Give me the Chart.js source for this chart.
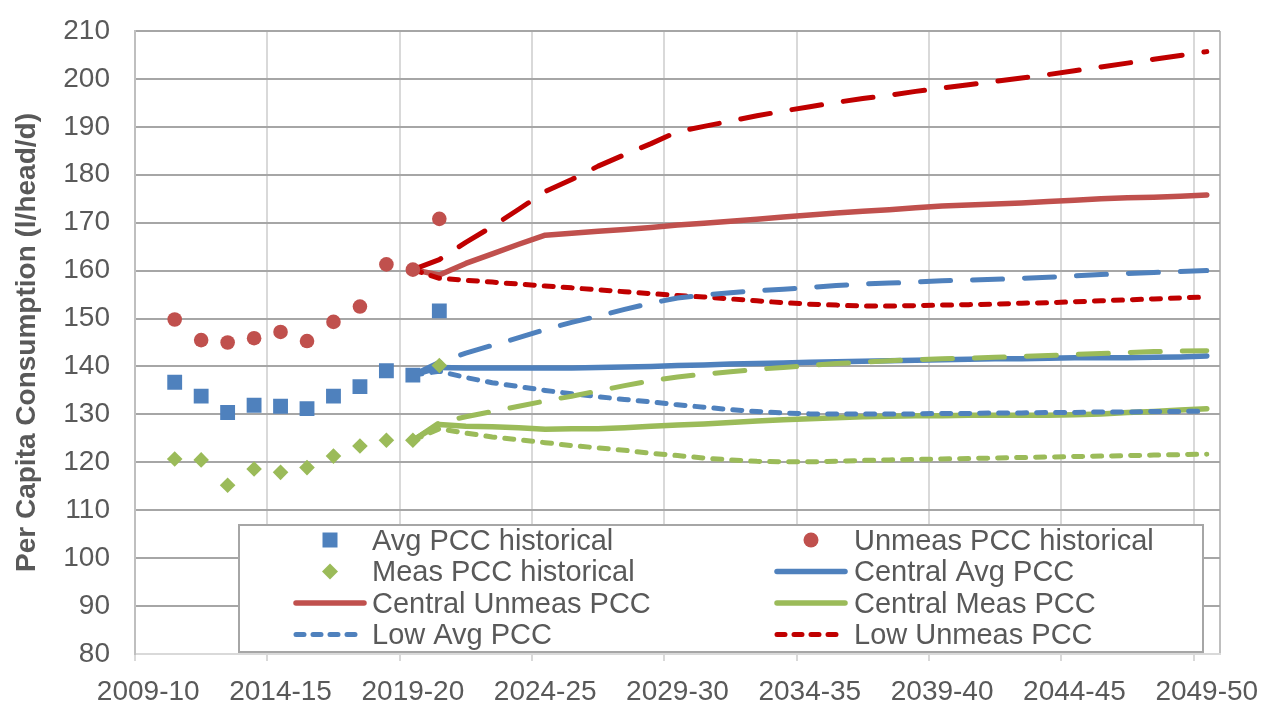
<!DOCTYPE html>
<html>
<head>
<meta charset="utf-8">
<script src="https://cdn.jsdelivr.net/npm/chart.js"></script>
<style>
  html, body { margin: 0; padding: 0; background: #ffffff; }
  #wrap { width: 1262px; height: 702px; }
</style>
</head>
<body>
<div id="wrap"><canvas id="pccChart" width="1262" height="702"></canvas></div>
<script>
// --- data ---
const years = ['2009-10', '2010-11', '2011-12', '2012-13', '2013-14', '2014-15', '2015-16', '2016-17',
    '2017-18', '2018-19', '2019-20', '2020-21', '2021-22', '2022-23', '2023-24', '2024-25', '2025-26',
    '2026-27', '2027-28', '2028-29', '2029-30', '2030-31', '2031-32', '2032-33', '2033-34', '2034-35',
    '2035-36', '2036-37', '2037-38', '2038-39', '2039-40', '2040-41', '2041-42', '2042-43', '2043-44',
    '2044-45', '2045-46', '2046-47', '2047-48', '2048-49', '2049-50'];

// historical series start at 2010-11, projections at 2019-20
const histStart = '2010-11';
const projStart = '2019-20';

const avgHist = [136.7, 133.8, 130.4, 131.9, 131.7, 131.2, 133.8, 135.8, 139.1, 138.2, 151.6];
const unmeasHist = [149.8, 145.5, 145.0, 145.9, 147.2, 145.3, 149.3, 152.5, 161.3, 160.2, 170.8];
const measHist = [120.7, 120.5, 115.2, 118.6, 117.9, 118.9, 121.3, 123.4, 124.6, 124.6, 140.2];

const centralAvg = [138.2, 139.8, 139.7, 139.7, 139.7, 139.7, 139.7, 139.8, 139.9, 140.0, 140.2,
    140.3, 140.5, 140.6, 140.7, 140.9, 141.0, 141.1, 141.2, 141.3, 141.4,
    141.5, 141.6, 141.6, 141.7, 141.8, 141.8, 141.8, 141.9, 142.0, 142.2];
const centralUnmeas = [160.2, 159.1, 161.5, 163.5, 165.5, 167.4, 167.8, 168.2, 168.6, 169.0, 169.5,
    169.9, 170.3, 170.7, 171.2, 171.6, 172.0, 172.4, 172.7, 173.1, 173.5,
    173.7, 173.9, 174.1, 174.4, 174.7, 175.0, 175.2, 175.3, 175.5, 175.8];
const centralMeas = [124.6, 127.9, 127.5, 127.4, 127.2, 126.9, 127.0, 127.0, 127.2, 127.5, 127.8,
    128.0, 128.3, 128.6, 128.9, 129.1, 129.3, 129.5, 129.6, 129.7, 129.7,
    129.8, 129.8, 129.8, 129.8, 129.9, 130.1, 130.4, 130.6, 130.9, 131.2];
const lowAvg = [138.2, 139.0, 137.7, 136.6, 135.8, 135.0, 134.3, 133.7, 133.1, 132.6, 132.0,
    131.5, 131.0, 130.6, 130.3, 130.1, 130.1, 130.1, 130.1, 130.1, 130.2,
    130.2, 130.3, 130.3, 130.4, 130.4, 130.5, 130.5, 130.6, 130.6, 130.7];
const lowUnmeas = [160.2, 158.4, 158.0, 157.6, 157.2, 156.8, 156.4, 156.0, 155.6, 155.2, 154.8,
    154.5, 154.1, 153.7, 153.3, 153.0, 152.8, 152.6, 152.6, 152.7, 152.8,
    152.9, 153.0, 153.2, 153.3, 153.5, 153.7, 153.9, 154.1, 154.3, 154.5];
const lowMeas = [124.6, 127.0, 126.1, 125.3, 124.7, 124.1, 123.5, 123.0, 122.5, 121.9, 121.4,
    120.9, 120.5, 120.2, 120.1, 120.1, 120.2, 120.4, 120.5, 120.6, 120.7,
    120.8, 120.9, 121.0, 121.1, 121.2, 121.3, 121.4, 121.5, 121.6, 121.7];
const highAvg = [138.2, 140.9, 142.8, 144.4, 146.0, 147.7, 149.2, 150.5, 151.9, 153.2, 154.3,
    154.9, 155.4, 155.8, 156.1, 156.5, 156.9, 157.2, 157.4, 157.6, 157.9,
    158.0, 158.2, 158.4, 158.6, 158.9, 159.2, 159.4, 159.6, 159.8, 160.0];
const highUnmeas = [160.2, 162.3, 165.9, 169.2, 172.8, 176.5, 179.0, 181.8, 184.2, 186.5, 189.0,
    190.1, 191.2, 192.3, 193.3, 194.2, 195.1, 195.9, 196.6, 197.4, 198.1,
    198.8, 199.5, 200.2, 200.9, 201.7, 202.5, 203.3, 204.1, 204.9, 205.7];
const highMeas = [124.6, 128.3, 129.5, 130.6, 131.7, 132.8, 133.8, 134.9, 136.0, 137.0, 137.8,
    138.4, 138.9, 139.4, 139.8, 140.2, 140.6, 140.9, 141.2, 141.4, 141.6,
    141.7, 141.9, 142.1, 142.3, 142.5, 142.7, 142.9, 143.1, 143.2, 143.3];

const yTicks = { min: 80, max: 210, step: 10 };

// --- colours / styles ---
const BLUE = '#4F81BD';
const RED = '#C0504D';
const GREEN = '#9BBB59';
const DARK_RED = '#C00000';
const TEXT = '#595959';
const FONT = "'Liberation Sans', Arial, sans-serif";
const SHORT_DASH = [9, 10];
const LONG_DASH = [30, 22];

// place a short series on the full category axis
const alignTo = (values, startLabel) => {
    const start = years.indexOf(startLabel);
    return years.map((_, i) => (i >= start && i - start < values.length) ? values[i - start] : null);
};

const markerSet = (label, values, color, style, radius) => ({
    label: label,
    data: alignTo(values, histStart),
    showLine: false,
    pointStyle: style,
    pointRadius: radius,
    pointHoverRadius: radius,
    pointBackgroundColor: color,
    pointBorderWidth: 0,
    backgroundColor: color,
    borderColor: color,
    order: 0
});

let lineOrder = 100;
const lineSet = (label, values, color, dash) => ({
    label: label,
    data: alignTo(values, projStart),
    borderColor: color,
    backgroundColor: color,
    borderWidth: dash.length ? 5 : 5.5,
    borderDash: dash,
    borderCapStyle: 'round',
    borderJoinStyle: 'round',
    pointRadius: 0,
    pointHoverRadius: 0,
    tension: 0,
    fill: false,
    order: lineOrder--
});

const datasets = [
    markerSet('Avg PCC historical', avgHist, BLUE, 'rect', 10.5),
    markerSet('Unmeas PCC historical', unmeasHist, RED, 'circle', 7.3),
    markerSet('Meas PCC historical', measHist, GREEN, 'rectRot', 7.8),
    lineSet('Central Avg PCC', centralAvg, BLUE, []),
    lineSet('Central Unmeas PCC', centralUnmeas, RED, []),
    lineSet('Central Meas PCC', centralMeas, GREEN, []),
    lineSet('Low Avg PCC', lowAvg, BLUE, SHORT_DASH),
    lineSet('Low Unmeas PCC', lowUnmeas, DARK_RED, SHORT_DASH),
    lineSet('Low Meas PCC', lowMeas, GREEN, SHORT_DASH),
    lineSet('High Avg PCC', highAvg, BLUE, LONG_DASH),
    lineSet('High Unmeas PCC', highUnmeas, DARK_RED, LONG_DASH),
    lineSet('High Meas PCC', highMeas, GREEN, LONG_DASH)
];

// Excel-style boxed legend, two columns, only the first 8 entries fit
const boxLegend = {
    id: 'boxLegend',
    afterDraw(chart) {
        const ctx = chart.ctx;
        const box = { x: 239, y: 525, w: 964, h: 127 };
        ctx.save();
        ctx.fillStyle = '#ffffff';
        ctx.fillRect(box.x, box.y, box.w, box.h);
        ctx.strokeStyle = '#a6a6a6';
        ctx.lineWidth = 2;
        ctx.strokeRect(box.x, box.y, box.w, box.h);

        chart.data.datasets.slice(0, 8).forEach((ds, k) => {
            const col = k % 2;
            const row = Math.floor(k / 2);
            const cx = col ? 811 : 330;
            const tx = col ? 854 : 372;
            const cy = 540 + row * 31.5;

            ctx.fillStyle = ds.backgroundColor;
            ctx.strokeStyle = ds.borderColor;
            if (ds.showLine === false) {
                ctx.beginPath();
                if (ds.pointStyle === 'rect') {
                    ctx.rect(cx - 7.5, cy - 7.5, 15, 15);
                } else if (ds.pointStyle === 'circle') {
                    ctx.arc(cx, cy, 7.5, 0, Math.PI * 2);
                } else {
                    ctx.moveTo(cx - 8, cy);
                    ctx.lineTo(cx, cy - 8);
                    ctx.lineTo(cx + 8, cy);
                    ctx.lineTo(cx, cy + 8);
                    ctx.closePath();
                }
                ctx.fill();
            } else {
                ctx.beginPath();
                ctx.lineWidth = ds.borderWidth;
                ctx.lineCap = 'round';
                ctx.setLineDash(ds.borderDash.length ? [8, 9] : []);
                ctx.moveTo(cx - 34, cy);
                ctx.lineTo(cx + 34, cy);
                ctx.stroke();
                ctx.setLineDash([]);
            }

            ctx.fillStyle = TEXT;
            ctx.font = `29px ${FONT}`;
            ctx.textAlign = 'left';
            ctx.textBaseline = 'alphabetic';
            ctx.fillText(ds.label, tx, cy + 9.5);
        });
        ctx.restore();
    }
};

new Chart(document.getElementById('pccChart').getContext('2d'), {
    type: 'line',
    data: { labels: years, datasets: datasets },
    options: {
        responsive: false,
        animation: false,
        devicePixelRatio: 1,
        events: [],
        layout: { padding: { top: 31, right: 42, bottom: 0, left: 0 } },
        plugins: {
            legend: { display: false },
            tooltip: { enabled: false }
        },
        scales: {
            x: {
                type: 'category',
                offset: true,
                afterFit: (scale) => {
                    scale.height = 48;
                    scale.paddingLeft = 0;
                    scale.paddingRight = 0;
                },
                grid: {
                    offset: true,
                    lineWidth: 2,
                    tickLength: 7,
                    color: (c) => c.index === undefined ? '#bfbfbf' : (c.index % 5 === 0 ? '#d9d9d9' : 'rgba(0,0,0,0)'),
                    tickColor: (c) => (c.index !== undefined && c.index % 5 === 0) ? '#d9d9d9' : 'rgba(0,0,0,0)'
                },
                border: { display: true, color: '#d9d9d9', width: 2 },
                ticks: {
                    autoSkip: false,
                    maxRotation: 0,
                    minRotation: 0,
                    padding: 14,
                    color: TEXT,
                    font: { family: FONT, size: 28 },
                    callback: (value, index) => index % 5 === 0 ? years[index] : ''
                }
            },
            y: {
                min: yTicks.min,
                max: yTicks.max,
                afterFit: (scale) => {
                    scale.width = 135;
                    scale.paddingTop = 0;
                    scale.paddingBottom = 0;
                },
                grid: {
                    color: '#a6a6a6',
                    lineWidth: 2,
                    drawTicks: false
                },
                border: { display: true, color: '#bfbfbf', width: 2 },
                ticks: {
                    stepSize: yTicks.step,
                    padding: 25,
                    color: TEXT,
                    font: { family: FONT, size: 28 }
                },
                title: {
                    display: true,
                    text: 'Per Capita Consumption (l/head/d)',
                    color: TEXT,
                    font: { family: FONT, size: 28, weight: 'bold' },
                    padding: { top: 10, bottom: 0 }
                }
            }
        }
    },
    plugins: [boxLegend]
});
</script>
</body>
</html>
